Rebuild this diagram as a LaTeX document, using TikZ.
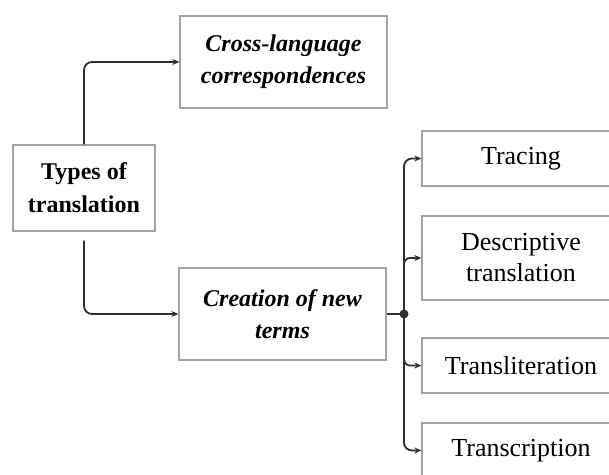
\documentclass[tikz,border=0pt]{standalone}
\usepackage{fontspec}
\setmainfont{Liberation Serif}
\usetikzlibrary{arrows.meta}
\definecolor{boxgray}{HTML}{A3A3A3}
\definecolor{linedark}{HTML}{2E2E2E}
\tikzset{
  box/.style={draw=boxgray, line width=1.3pt, rectangle, inner sep=0pt, align=center, text=black},
  boldit/.style={font=\fontsize{24}{32}\selectfont\bfseries\itshape},
  boldup/.style={font=\fontsize{24}{33}\selectfont\bfseries},
  plain/.style={font=\fontsize{26}{31}\selectfont},
  conn/.style={draw=linedark, line width=1.8pt, rounded corners=8pt, -{Stealth[length=7pt,width=6pt]}},
  bar/.style={draw=linedark, line width=1.8pt}
}
\begin{document}
\begin{tikzpicture}[x=1pt,y=-1pt]
\clip (0,0) rectangle (609,474);
\fill[white] (0,0) rectangle (609,474);
\node[box, boldit, minimum width=207pt, minimum height=92pt] (cross) at (283.5,62) {Cross-language\\correspondences};
\node[box, boldup, minimum width=142pt, minimum height=86pt] (types) at (84,188) {Types of\\translation};
\node[box, boldit, minimum width=207pt, minimum height=92pt] (creation) at (282.5,314) {Creation of new\\terms};
\node[box, plain, minimum width=198pt, minimum height=55pt] (tracing) at (521,158.5) {Tracing};
\node[box, plain, minimum width=198pt, minimum height=84pt] (descr) at (521,258) {Descriptive\\translation};
\node[box, plain, minimum width=198pt, minimum height=55pt] (translit) at (521,365.5) {Transliteration};
\node[box, plain, minimum width=198pt, minimum height=55pt] (transcr) at (521,450.5) {Transcription};
\node[circle, fill=linedark, inner sep=0pt, minimum size=9pt] (dot) at (404,314) {};
\coordinate (bd) at (404,266);
\coordinate (bt) at (404,357);
% connectors
\draw[conn] (types.north) |- (cross.west);
\draw[conn, shorten <=9pt] (types.south) |- (creation.west);
\draw[bar] (creation.east) -- (dot.center);
\draw[conn] (dot.center) |- (tracing.west);
\draw[conn] (dot.center) |- (transcr.west);
\draw[conn, rounded corners=6pt] (bd) |- (descr.west);
\draw[conn, rounded corners=6pt] (bt) |- (translit.west);
\end{tikzpicture}
\end{document}
